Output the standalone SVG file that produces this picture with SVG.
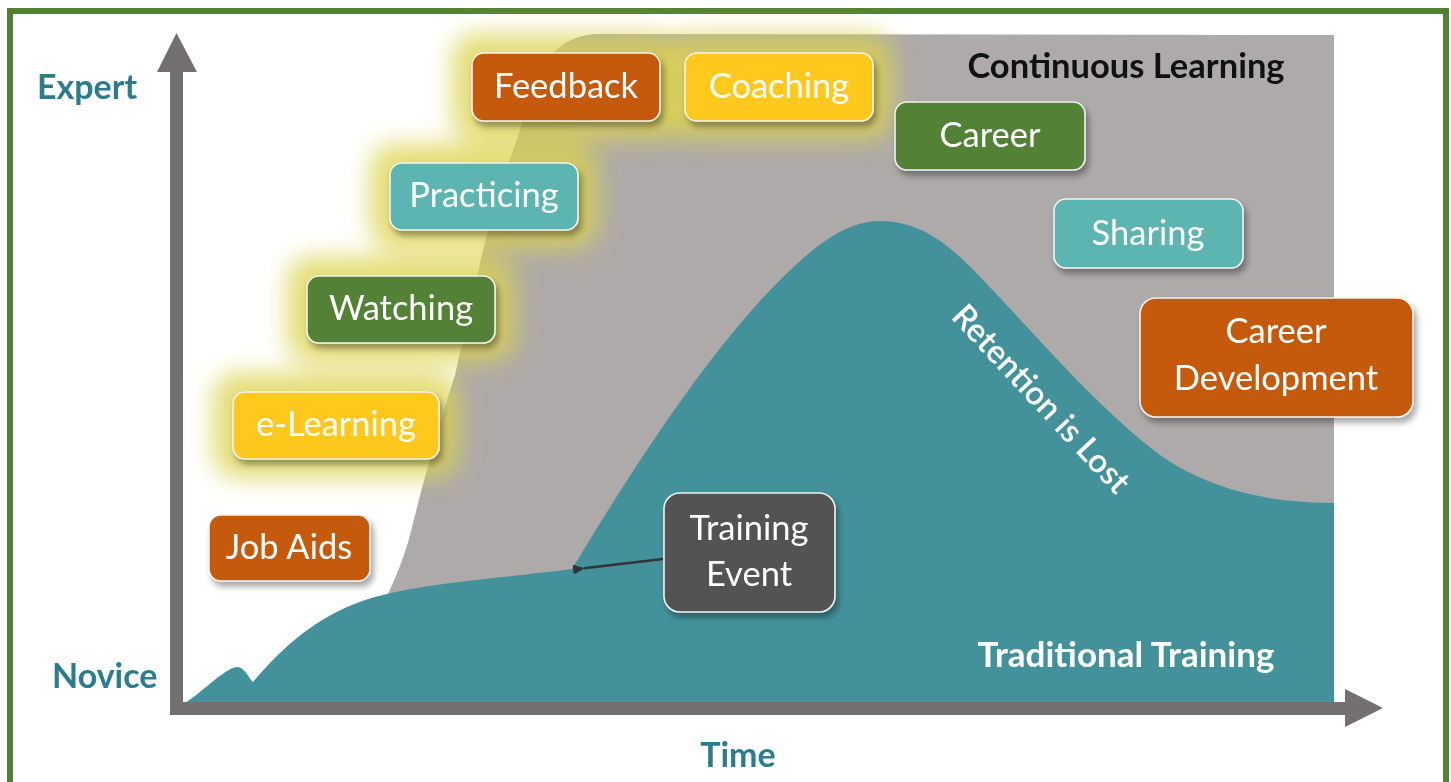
<svg xmlns="http://www.w3.org/2000/svg" width="1451" height="782" viewBox="0 0 1451 782">
<defs>
<style>
.box{stroke:#F2F2F2;stroke-width:1.6}
.orange{fill:#C55A11}
.yellow{fill:#FFC81E}
.green{fill:#538135}
.tealb{fill:#5DB5B1}
.dark{fill:#525252}
.bt{font-family:Lato,"Open Sans",sans-serif;font-size:34.5px;fill:#FFFFFF;text-anchor:middle}
.lbl{font-family:Lato,"Open Sans",sans-serif;font-weight:bold;font-size:34px;fill:#2C7C8E}
.glow{fill:#DCD44E;opacity:0.78}
</style>
<filter id="blur" x="-50%" y="-100%" width="200%" height="300%">
<feGaussianBlur stdDeviation="12"/>
</filter>
<filter id="shadow" x="-10%" y="-20%" width="130%" height="150%">
<feGaussianBlur in="SourceAlpha" stdDeviation="3"/>
<feOffset dx="3" dy="5" result="o"/>
<feComponentTransfer><feFuncA type="linear" slope="0.35"/></feComponentTransfer>
<feMerge><feMergeNode/><feMergeNode in="SourceGraphic"/></feMerge>
</filter>
<marker id="ah" markerWidth="12" markerHeight="10" refX="1" refY="5" orient="auto" markerUnits="userSpaceOnUse">
<path d="M12,0 L0,5 L12,10 Z" fill="#333333"/>
</marker>
</defs>
<rect x="0" y="0" width="1451" height="782" fill="#FFFFFF"/>
<rect x="10" y="11" width="1436" height="790" fill="none" stroke="#548235" stroke-width="6"/>

<g id="continuous-area">
<path d="M385 600 C395 580 405 555 410 535 C420 495 440 420 455 375 L483 250 C495 200 510 160 520 130 C535 75 548 38 595 34 L1334 35 L1334 610 Z" fill="#AEAAA9"/>
</g>

<g id="glows" filter="url(#blur)">
<rect class="glow" x="452" y="34" width="228" height="106" rx="24"/>
<rect class="glow" x="665" y="34" width="228" height="106" rx="24"/>
<rect class="glow" x="370" y="144" width="228" height="105" rx="24"/>
<rect class="glow" x="287" y="257" width="228" height="105" rx="24"/>
<rect class="glow" x="213" y="373" width="246" height="105" rx="24"/>
</g>

<g id="traditional-area">
<path d="M185 703 C205 690 225 668 237 667 C245 667 250 680 253 682 C280 650 320 610 383 595 C430 583 500 578 572 569 C620 490 700 360 780 280 C820 240 850 221 880 221 C925 221 955 250 985 282 C1040 340 1100 410 1160 455 C1210 490 1270 503 1334 503 L1334 703 Z" fill="#43929B"/>
</g>

<g id="axes" fill="#757070">
<rect x="170" y="68" width="13" height="647"/>
<path d="M157 72 L176.5 33 L197 72 Z"/>
<rect x="170" y="702" width="1178" height="13"/>
<path d="M1345 689 L1383 708 L1345 727 Z"/>
</g>

<g id="connectors">
<line x1="663" y1="559" x2="584" y2="568.3" stroke="#333333" stroke-width="2.5" marker-end="url(#ah)"/>
</g>

<g id="labels">
<text class="lbl" x="37" y="99">Expert</text>
<text class="lbl" x="52" y="688">Novice</text>
<text class="lbl" x="738" y="767" text-anchor="middle">Time</text>
<text x="1126" y="78" text-anchor="middle" font-family="Lato,'Open Sans',sans-serif" font-weight="bold" font-size="34.5" fill="#111111">Continuous Learning</text>
<text x="1126" y="667" text-anchor="middle" font-family="Lato,'Open Sans',sans-serif" font-weight="bold" font-size="35" fill="#FFFFFF">Traditional Training</text>
<text transform="translate(1041 399) rotate(47)" x="0" y="11" text-anchor="middle" font-family="Lato,'Open Sans',sans-serif" font-weight="600" font-size="33" fill="#FFFFFF">Retention is Lost</text>
</g>

<g id="node-feedback" filter="url(#shadow)"><rect class="box orange" x="472" y="53" width="188" height="68" rx="12"/><text class="bt" x="566" y="98">Feedback</text></g>
<g id="node-coaching" filter="url(#shadow)"><rect class="box yellow" x="685" y="53" width="188" height="68" rx="12"/><text class="bt" x="779" y="98">Coaching</text></g>
<g id="node-practicing" filter="url(#shadow)"><rect class="box tealb" x="390" y="163" width="188" height="67" rx="12"/><text class="bt" x="484" y="207">Practicing</text></g>
<g id="node-watching" filter="url(#shadow)"><rect class="box green" x="307" y="276" width="188" height="67" rx="12"/><text class="bt" x="401" y="320">Watching</text></g>
<g id="node-elearning" filter="url(#shadow)"><rect class="box yellow" x="233" y="392" width="206" height="67" rx="12"/><text class="bt" x="336" y="436">e-Learning</text></g>
<g id="node-jobaids" filter="url(#shadow)"><rect class="box orange" x="209" y="515" width="161" height="66" rx="12"/><text class="bt" x="289" y="559">Job Aids</text></g>
<g id="node-career" filter="url(#shadow)"><rect class="box green" x="895" y="102" width="190" height="68" rx="12"/><text class="bt" x="990" y="147">Career</text></g>
<g id="node-sharing" filter="url(#shadow)"><rect class="box tealb" x="1054" y="199" width="189" height="69" rx="12"/><text class="bt" x="1148" y="245">Sharing</text></g>
<g id="node-career-development" filter="url(#shadow)"><rect class="box orange" x="1140" y="298" width="273" height="119" rx="16"/><text class="bt" x="1276" y="343">Career</text><text class="bt" x="1276" y="390">Development</text></g>
<g id="node-training-event" filter="url(#shadow)"><rect class="box dark" x="664" y="493" width="171" height="119" rx="16"/><text class="bt" x="749" y="540">Training</text><text class="bt" x="749" y="586">Event</text></g>
</svg>
